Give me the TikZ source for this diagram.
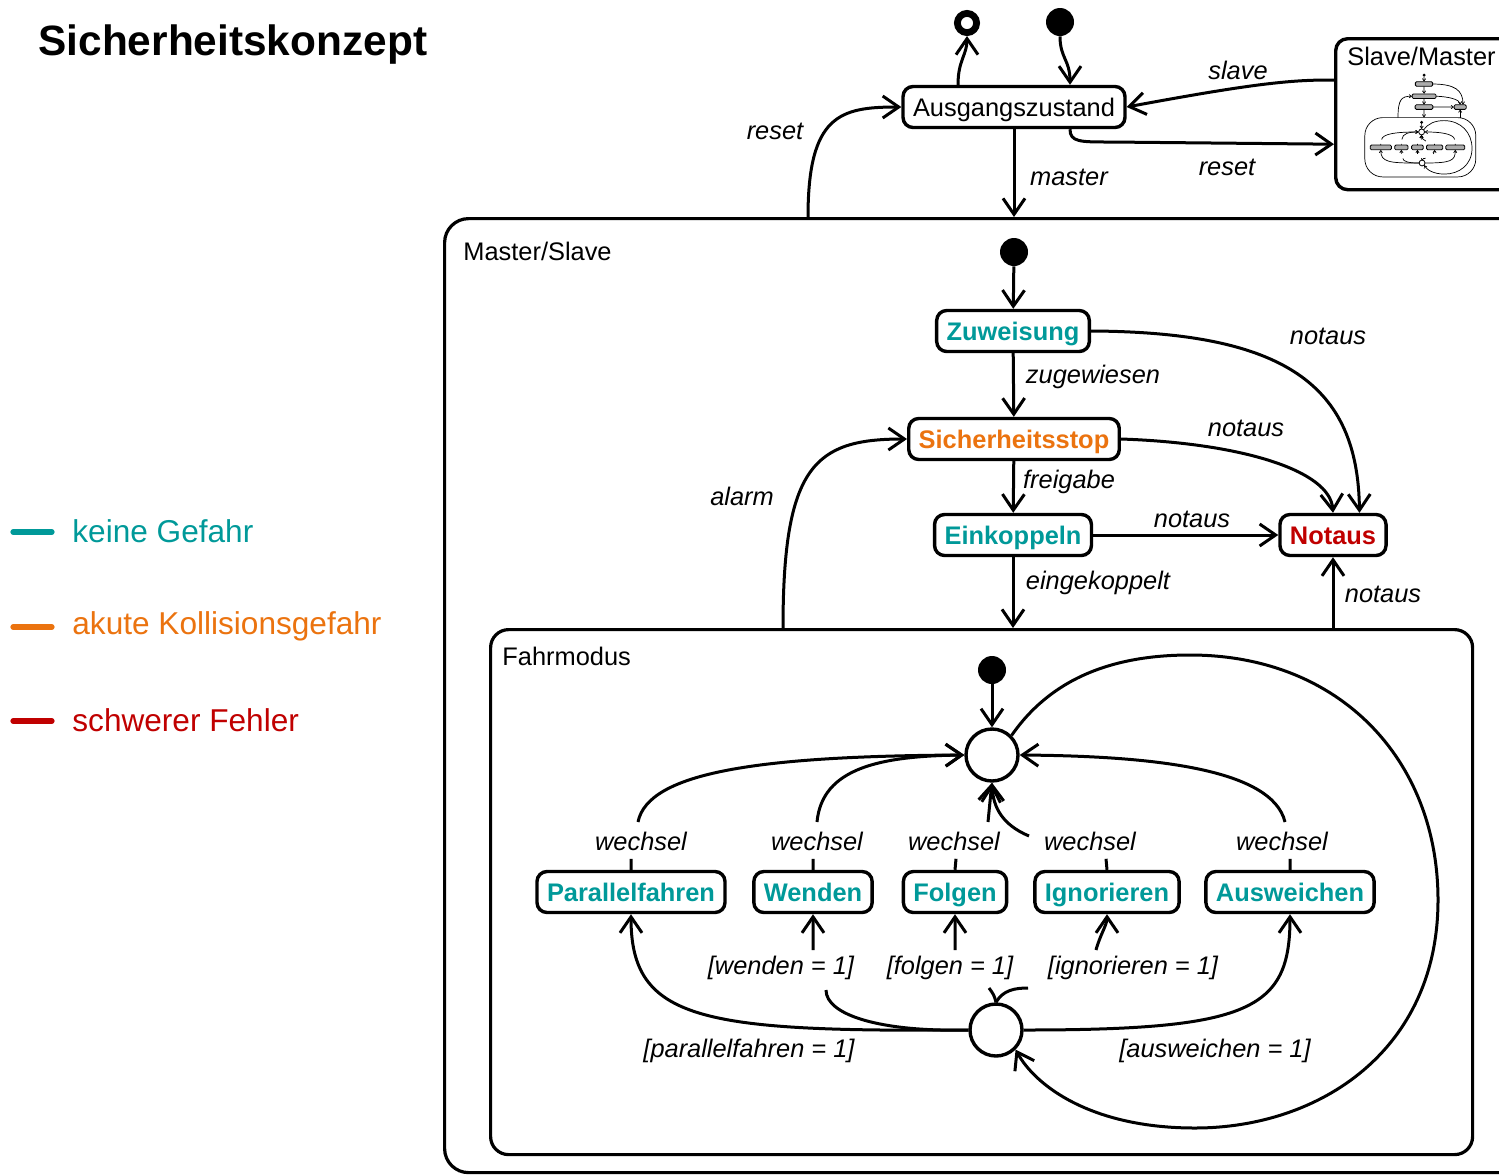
\documentclass[tikz,border=0pt]{standalone}
\usepackage{fontspec}
\setmainfont{Liberation Sans}
\usetikzlibrary{arrows.meta}
\definecolor{tealc}{RGB}{0,153,153}
\definecolor{orngc}{RGB}{235,115,15}
\definecolor{redc}{RGB}{192,0,0}
\newcommand\T[1]{#1}
\tikzset{
  st/.style={draw, line width=1.7pt, rounded corners=5pt, fill=white, minimum height=20.5pt,
    inner xsep=5pt, inner ysep=0pt, text height=9.2pt, text depth=0.2pt,
    font=\fontsize{12.7}{15}\selectfont\bfseries},
  sr/.style={st, font=\fontsize{12.7}{15}\selectfont},
  lab/.style={inner sep=0pt, font=\fontsize{12.7}{15}\selectfont\itshape},
  nm/.style={inner sep=0pt, font=\fontsize{12.7}{15}\selectfont},
  tr/.style={line width=1.5pt, -{Straight Barb[length=8pt,width=11pt]}},
  init/.style={circle, fill=black, minimum size=14pt, inner sep=0pt},
  fin/.style={circle, draw, line width=3.4pt, minimum size=9.6pt, inner sep=0pt, fill=white},
  jn/.style={circle, draw, line width=1.7pt, minimum size=26pt, inner sep=0pt, fill=white},
  cont/.style={draw, line width=1.6pt},
  leg/.style={line width=2.6pt, line cap=round},
  legt/.style={inner sep=0pt, anchor=west, font=\fontsize{15.8}{19}\selectfont},
}
\newcommand\MSContent{%
  \node[cont, rounded corners=9pt, minimum width=491pt, minimum height=262.5pt, anchor=north west] (FM) at (489,628) {};
  \node[nm, anchor=west] (tFM) at (502,656) {\T{Fahrmodus}};
  \node[init] (i1) at (1014,252) {};
  \node[st, text=tealc] (Z) at (1013,331) {\T{Zuweisung}};
  \node[st, text=orngc] (S) at (1014,439) {\T{Sicherheitsstop}};
  \node[st, text=tealc] (E) at (1013,535) {\T{Einkoppeln}};
  \node[st, text=redc] (N) at (1333,535) {\T{Notaus}};
  \coordinate (alS) at (783,628);
  \draw[tr] (i1) -- (Z);
  \draw[tr] (Z) -- (S);
  \draw[tr] (S) -- (E);
  \draw[tr] (E) -- (E.south |- FM.north);
  \draw[tr] (E) -- (N);
  \draw[tr] (Z.east) .. controls (1285,332) and (1358,385) .. (N.40);
  \draw[tr] (S.east) .. controls (1240,443) and (1330,470) .. (N.north);
  \draw[tr] (N.south |- FM.north) -- (N.south);
  \draw[tr] (alS) .. controls (783,465) and (815,439) .. (S.west);
  \node[lab] (l1) at (1328,336) {\T{notaus}};
  \node[lab] (l2) at (1093,377) {\T{zugewiesen}};
  \node[lab] (l3) at (1246,428) {\T{notaus}};
  \node[lab] (l4) at (1069,482) {\T{freigabe}};
  \node[lab] (l5) at (742,496) {\T{alarm}};
  \node[lab] (l6) at (1192,519) {\T{notaus}};
  \node[lab] (l7) at (1098,583) {\T{eingekoppelt}};
  \node[lab] (l8) at (1383,594) {\T{notaus}};
  % Fahrmodus
  \node[init] (i2) at (992,670) {};
  \node[jn] (J1) at (992,755) {};
  \node[jn] (J2) at (996,1030) {};
  \node[st, text=tealc] (P) at (631,892) {\T{Parallelfahren}};
  \node[st, text=tealc] (W) at (813,892) {\T{Wenden}};
  \node[st, text=tealc] (F) at (955,892) {\T{Folgen}};
  \node[st, text=tealc] (I) at (1107,892) {\T{Ignorieren}};
  \node[st, text=tealc] (A) at (1290,892) {\T{Ausweichen}};
  \draw[tr] (i2) -- (J1);
  \draw[tr] (P.north) -- ++(0,-11) (638,822) .. controls (648,772) and (760,756) .. (J1.west);
  \draw[tr] (W.north) -- ++(0,-11) (817,822) .. controls (822,768) and (880,756) .. (J1.west);
  \draw[tr] (F.north) -- ++(1,-11) (988,822) .. controls (989,805) .. (J1.south);
  \draw[tr] (I.north) -- ++(-1,-11) (1029,836) .. controls (1003,825) and (993,808) .. (J1.south);
  \draw[tr] (A.north) -- ++(0,-11) (1285,822) .. controls (1272,768) and (1150,756) .. (J1.east);
  \draw[tr] (J1.north east) .. controls (1050,680) and (1110,655) .. (1190,655)
     .. controls (1340,655) and (1438,760) .. (1438,900)
     .. controls (1438,1050) and (1320,1128) .. (1195,1128)
     .. controls (1090,1128) and (1035,1085) .. (J2.south east);
  \draw[tr] (J2.west) .. controls (700,1032) and (631,1020) .. (P.south);
  \draw[tr] (J2.west) .. controls (880,1032) and (826,1015) .. (826,990) (813,950) -- (W.south);
  \draw[tr] (J2.north) .. controls (994,995) .. (989,988) (955,950) -- (F.south);
  \draw[tr] (J2.north) .. controls (1003,990) and (1015,988) .. (1028,988) (1096,950) .. controls (1100,935) and (1107,925) .. (I.south);
  \draw[tr] (J2.east) .. controls (1250,1030) and (1290,1010) .. (A.south);
  \node[lab] (w1) at (641,841) {\T{wechsel}};
  \node[lab] (w2) at (817,841) {\T{wechsel}};
  \node[lab] (w3) at (954,841) {\T{wechsel}};
  \node[lab] (w4) at (1090,841) {\T{wechsel}};
  \node[lab] (w5) at (1282,841) {\T{wechsel}};
  \node[lab] (g1) at (781,968) {\T{[wenden = 1]}};
  \node[lab] (g2) at (950,968) {\T{[folgen = 1]}};
  \node[lab] (g3) at (1133,968) {\T{[ignorieren = 1]}};
  \node[lab] (g4) at (749,1051) {\T{[parallelfahren = 1]}};
  \node[lab] (g5) at (1215,1051) {\T{[ausweichen = 1]}};
}
\begin{document}
\begin{tikzpicture}[x=0.5pt, y=-0.5pt]
\useasboundingbox (0,0) rectangle (1499,1174);
% title and legend
\node[anchor=base west, inner sep=0pt, font=\fontsize{21.2}{25}\selectfont\bfseries] (title) at (38,55) {Sicherheitskonzept};
\draw[leg, tealc] (13,532) -- (52,532);
\draw[leg, orngc] (13,627) -- (52,627);
\draw[leg, redc] (13,721) -- (52,721);
\node[legt, text=tealc] (lg1) at (72,531) {keine Gefahr};
\node[legt, text=orngc] (lg2) at (72,626) {akute Kollisionsgefahr};
\node[legt, text=redc] (lg3) at (72,720) {schwerer Fehler};
% top level
\node[cont, rounded corners=12pt, minimum width=549pt, minimum height=477pt, anchor=north west] (MS) at (443,217) {};
\node[nm, anchor=west] (tMS) at (463,251) {Master/Slave};
\node[cont, line width=1.7pt, rounded corners=6pt, minimum width=103pt, minimum height=75.5pt, anchor=north west] (SM) at (1334,37) {};
\node[nm, anchor=west] (tSM) at (1347,56) {Slave/Master};
\node[sr] (Au) at (1014,107) {Ausgangszustand};
\node[init] (i0) at (1060,22) {};
\node[fin] (f0) at (967,23) {};
\coordinate (rsS) at (808,217);
\draw[tr] (i0.south) .. controls (1060,58) and (1070,60) .. ([xshift=28pt]Au.north);
\draw[tr] ([xshift=-28pt]Au.north) .. controls (958,60) and (967,55) .. (f0.south);
\draw[tr] ([yshift=17pt]SM.west) .. controls (1290,79) and (1240,86) .. (Au.east);
\draw[tr] ([xshift=28pt]Au.south) .. controls (1070,142) and (1080,142) .. (1110,142) -- ([yshift=-15pt]SM.west);
\draw[tr] (Au) -- (Au.south |- MS.north);
\draw[tr] (rsS) .. controls (808,115) and (840,107) .. (Au.west);
\node[lab] (t1) at (1238,70) {slave};
\node[lab] (t2) at (1227,167) {reset};
\node[lab] (t3) at (1069,177) {master};
\node[lab] (t4) at (775,131) {reset};
\MSContent
% thumbnail inside Slave/Master
\begin{scope}[shift={(1309.5,46.6)}, scale=0.113, transform shape, name prefix=m-]
  \renewcommand\T[1]{\phantom{#1}}
  \tikzset{st/.append style={line width=0.4pt, fill=gray!65, rounded corners=0.6pt},
    tr/.style={line width=0.35pt, -{Straight Barb[length=1.2pt,width=1.6pt]}},
    jn/.append style={line width=0.4pt},
    cont/.append style={line width=0.35pt, rounded corners=1pt}}
  \MSContent
\end{scope}
\end{tikzpicture}
\end{document}
